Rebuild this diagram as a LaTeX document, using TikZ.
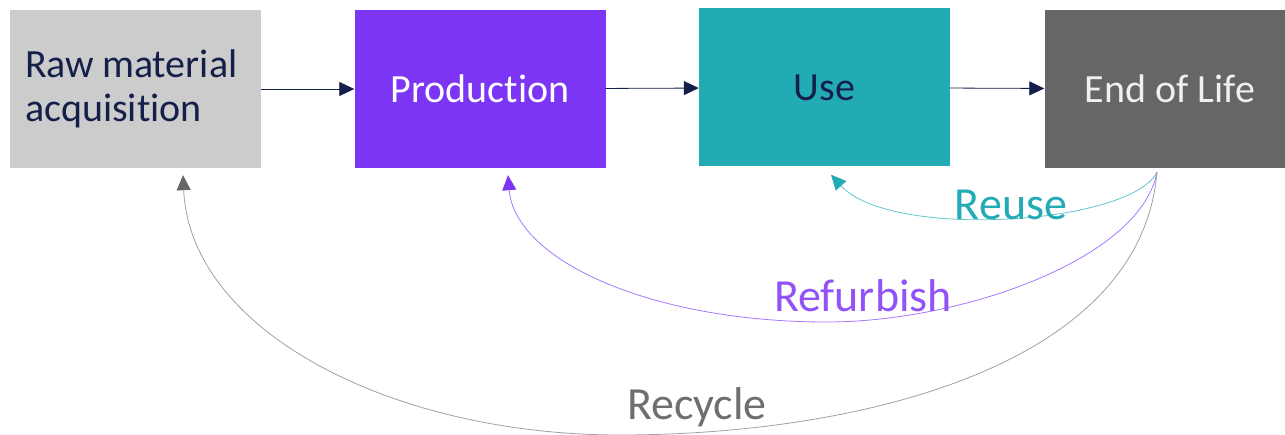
\documentclass[tikz,border=0pt]{standalone}
\usepackage{fontspec}
\setmainfont{Carlito}[Ligatures=NoCommon]
\usetikzlibrary{arrows.meta}

\definecolor{rawfill}{HTML}{CCCCCC}
\definecolor{prodfill}{HTML}{7D35F5}
\definecolor{usefill}{HTML}{22AAB5}
\definecolor{eolfill}{HTML}{666666}
\definecolor{navy}{HTML}{14204A}
\definecolor{reuseline}{HTML}{62C6CE}
\definecolor{refurbline}{HTML}{A677FF}
\definecolor{recycleline}{HTML}{A0A0A0}
\definecolor{recycletext}{HTML}{6E6E6E}

\tikzset{
  stage/.style={minimum width=251pt, minimum height=158pt, inner sep=0pt,
    font=\fontsize{40}{44}\selectfont},
  flow/.style={draw=navy, line width=0.8pt, -{Triangle[length=15pt,width=14pt]}},
  loopback/.style={line width=0.8pt},
  looplabel/.style={anchor=base, inner sep=0pt, font=\fontsize{46}{50}\selectfont}
}

\begin{document}
\begin{tikzpicture}[x=1pt, y=-1pt]
  \useasboundingbox (0,0) rectangle (1285,435);
  \clip (0,0) rectangle (1285,435);

  % life-cycle stages
  \node[stage, fill=rawfill, text=navy, text width=221pt, inner xsep=15pt, align=left]
    (raw) at (135.5,89) {\spaceskip=0.2em plus 0.1em Raw material\\acquisition};
  \node[stage, fill=prodfill, text=white] (prod) at (480,89) {Production};
  \node[stage, fill=usefill, text=navy] (use) at (824.5,87.5) {Use};
  \node[stage, fill=eolfill, text=white!94!black] (eol) at (1170,89) {End of Life};

  % forward flow
  \draw[flow] (raw) -- (prod);
  \draw[flow] (prod) -- (use);
  \draw[flow] (use) -- (eol);

  % return loops out of end of life
  \coordinate (src) at ([xshift=-13pt,yshift=-4pt]eol.south);
  \coordinate (useIn) at ([xshift=6.5pt,yshift=-8pt]use.south);
  \coordinate (prodIn) at ([xshift=28pt,yshift=-7pt]prod.south);
  \coordinate (rawIn) at ([xshift=47.5pt,yshift=-7pt]raw.south);

  \draw[loopback, draw=reuseline, -{Triangle[length=15pt,width=14pt,color=usefill]}]
    (src) .. controls (1130,225) and (890,240) .. (useIn);
  \draw[loopback, draw=refurbline, -{Triangle[length=15pt,width=14pt,color=prodfill]}]
    (src) .. controls (1140,260) and (960,322) .. (827,322)
          .. controls (650,322) and (515,260) .. (prodIn);
  \draw[loopback, draw=recycleline, -{Triangle[length=15pt,width=14pt,color=eolfill]}]
    (src) .. controls (1140,370) and (850,435) .. (620,435)
          .. controls (390,435) and (190,330) .. (rawIn);

  % loop labels
  \node[looplabel, text=usefill] (reuse) at (1011,220) {Reuse};
  \node[looplabel, text=prodfill!85!white] (refurb) at (863,312) {Refurbish};
  \node[looplabel, text=recycletext] (recycle) at (697,420) {Recycle};
\end{tikzpicture}
\end{document}
